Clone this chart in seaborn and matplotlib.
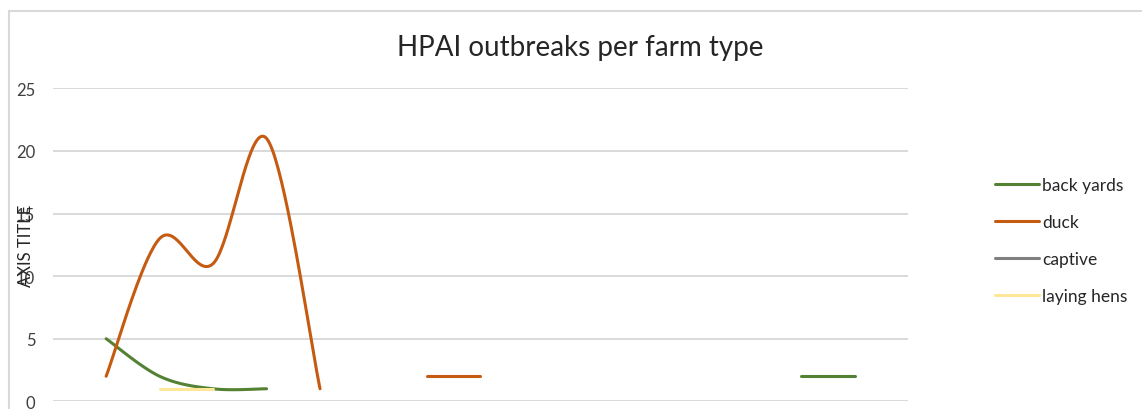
import numpy as np
import pandas as pd
import matplotlib
matplotlib.use("Agg")
import matplotlib.pyplot as plt
from matplotlib.lines import Line2D
import seaborn as sns

# Reporting periods on the category axis (labels sit below the visible area)
periods = list(range(1, 18))

# Outbreak counts per period; None = no outbreaks reported
back_yards = [None, 5, 2, 1, 1, None, None, None, None, None, None, None, None, None, 2, 2, None]
duck = [None, 2, 13, 11, 21, 1, None, 2, 2, None, None, None, None, None, None, None, None]
captive = [None] * 17
laying_hens = [None, None, 1, 1, None, None, None, None, None, None, None, None, None, None, None, None, None]

series_names = ["back yards", "duck", "captive", "laying hens"]
series_values = [back_yards, duck, captive, laying_hens]
series_colors = ["#548235", "#C55A11", "#7F7F7F", "#FFE699"]

y_ticks = [0, 5, 10, 15, 20, 25]

sns.set_theme(style="white")
plt.rcParams["font.family"] = ["Lato", "DejaVu Sans"]

fig = plt.figure(figsize=(11.42, 4.10), dpi=100)
ax = fig.add_axes([0.0461, 0.0188, 0.7493, 0.7632])


def smooth_segment(xs, ys, steps=40):
    """Smoothed line through points using cubic Bezier pieces (Catmull-Rom style)."""
    pts = np.column_stack([xs, ys]).astype(float)
    n = len(pts)
    if n < 2:
        return pts[:, 0], pts[:, 1]
    out = []
    t = np.linspace(0, 1, steps)[:, None]
    for i in range(n - 1):
        p0 = pts[i - 1] if i > 0 else pts[i]
        p1 = pts[i]
        p2 = pts[i + 1]
        p3 = pts[i + 2] if i + 2 < n else pts[i + 1]
        c1 = p1 + (p2 - p0) / 6.0
        c2 = p2 - (p3 - p1) / 6.0
        seg = ((1 - t) ** 3) * p1 + 3 * ((1 - t) ** 2) * t * c1 + 3 * (1 - t) * t ** 2 * c2 + t ** 3 * p2
        out.append(seg if i == 0 else seg[1:])
    seg = np.vstack(out)
    return seg[:, 0], seg[:, 1]


for name, vals, color in zip(series_names, series_values, series_colors):
    df = pd.DataFrame({"x": np.arange(len(periods)), "y": pd.array(vals, dtype="Float64")})
    df["run"] = df["y"].isna().cumsum()
    df = df.dropna()
    for _, grp in df.groupby("run"):
        sx, sy = smooth_segment(grp["x"].to_numpy(float), grp["y"].to_numpy(float))
        sns.lineplot(x=sx, y=sy, ax=ax, color=color, linewidth=2.2,
                     sort=False, estimator=None, solid_capstyle="round")

ax.set_xlim(0, len(periods) - 1)
ax.set_ylim(0, 25)
ax.set_yticks(y_ticks)
ax.set_xticks([])
ax.yaxis.grid(True, color="#d9d9d9", linewidth=1.4)
for s in ax.spines.values():
    s.set_visible(False)
ax.tick_params(axis="y", length=0, pad=12.5, labelsize=12, labelcolor="#404040")
ax.set_xlabel("")
ax.set_ylabel("")

fig.text(0.0228, 0.40, "AXIS TITLE", rotation=90, ha="center", va="center",
         fontsize=12, color="#262626")

fig.text(0.508, 0.883, "HPAI outbreaks per farm type", ha="center", va="center",
         fontsize=20, color="#262626")

handles = [Line2D([], [], color=c, linewidth=2.2) for c in series_colors]
fig.legend(handles, series_names, loc="center left", bbox_to_anchor=(0.8716, 0.411),
           frameon=False, fontsize=12.5, handlelength=2.5, handletextpad=0.2,
           labelspacing=1.2, labelcolor="#262626", borderaxespad=0, borderpad=0)

# chart frame (left and top edges)
fig.add_artist(Line2D([8.7 / 1142, 8.7 / 1142], [0, 1 - 12.3 / 410], color="#d9d9d9",
                      linewidth=1.5, transform=fig.transFigure))
fig.add_artist(Line2D([8.7 / 1142, 1], [1 - 12.3 / 410, 1 - 12.3 / 410], color="#d9d9d9",
                      linewidth=1.5, transform=fig.transFigure))

fig.savefig("out.png", dpi=100)
